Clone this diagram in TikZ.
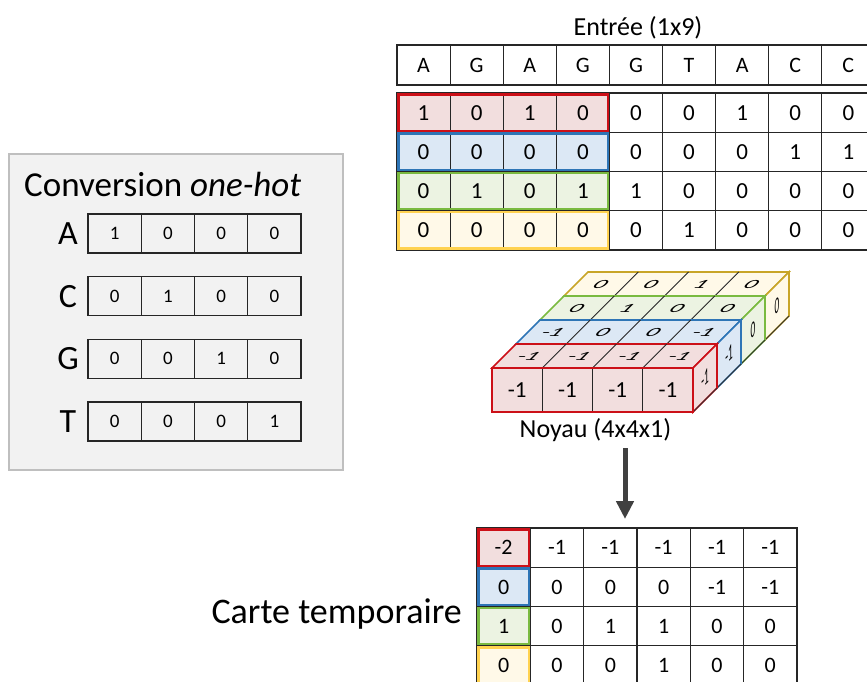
\documentclass[tikz,border=0pt]{standalone}
\usepackage{fontspec}
\setmainfont{Carlito}
\usetikzlibrary{arrows.meta}

\definecolor{redline}{RGB}{204,16,24}
\definecolor{redfill}{RGB}{242,222,222}
\definecolor{bluline}{RGB}{46,117,182}
\definecolor{blufill}{RGB}{220,232,245}
\definecolor{grnline}{RGB}{122,186,64}
\definecolor{grnfill}{RGB}{236,243,226}
\definecolor{ylwline}{RGB}{255,210,80}
\definecolor{ylwdark}{RGB}{200,165,40}
\definecolor{ylwfill}{RGB}{255,249,232}
\definecolor{boxgray}{RGB}{242,242,242}
\definecolor{boxedge}{RGB}{191,191,191}
\definecolor{arrowgray}{RGB}{64,64,64}

\newcommand{\fsz}[1]{\fontsize{#1}{#1}\selectfont}

\tikzset{
  gridline/.style={draw=black!85,line width=1.1pt},
  hdcell/.style={gridline,minimum width=53.1pt,minimum height=40pt,inner sep=0pt,font=\fsz{22}},
  incell/.style={gridline,minimum width=53.1pt,minimum height=39.25pt,inner sep=0pt,font=\fsz{23}},
  outcell/.style={gridline,minimum width=53.33pt,minimum height=39.3pt,inner sep=0pt,font=\fsz{22}},
  hotcell/.style={gridline,minimum width=53.25pt,minimum height=39pt,inner sep=0pt,font=\fsz{19}},
  kcell/.style={gridline,fill=redfill,minimum width=50.25pt,minimum height=44pt,inner sep=0pt,font=\fsz{23}},
  flow/.style={arrowgray,line width=5pt,-{Triangle[length=18pt,width=17pt]}},
}

\begin{document}
\begin{tikzpicture}[x=1pt,y=-1pt]
\useasboundingbox (0,0) rectangle (867,681);
\clip (0,0) rectangle (867,681);
\fill[white] (0,0) rectangle (867,681);

% ======================= LEFT: one-hot conversion table =======
\fill[boxgray] (9,154) rectangle (343,470);
\draw[boxedge,line width=1.2pt] (9,154) rectangle (343,470);
\node[font=\fsz{35},anchor=base west,inner sep=0pt] (conv) at (24,196) {Conversion \textit{one-hot}};
\foreach \b/\vals [count=\r] in {A/{1,0,0,0},C/{0,1,0,0},G/{0,0,1,0},T/{0,0,0,1}}{
  \pgfmathsetmacro\yc{233.5+62.67*(\r-1)}
  \node[font=\fsz{34},inner sep=0pt] (lbl-\b) at (68,\yc) {\b};
  \foreach \v [count=\c] in \vals
    \node[hotcell] (hot-\b-\c) at (88+53.25*\c-26.6,\yc) {\v};
}

% ======================= TOP: input sequence and its one-hot matrix =======
\node[font=\fsz{26},anchor=base] (entree) at (638,35) {Entrée (1x9)};
\foreach \b [count=\c] in {A,G,A,G,G,T,A,C,C}
  \node[hdcell] (hd-\c) at (397+53.1*\c-26.55,65) {\b};
\foreach \vals/\fc/\lc [count=\r] in {{1,0,1,0,0,0,1,0,0}/redfill/redline,
    {0,0,0,0,0,0,0,1,1}/blufill/bluline,{0,1,0,1,1,0,0,0,0}/grnfill/grnline,
    {0,0,0,0,0,1,0,0,0}/ylwfill/ylwline}{
  \fill[\fc] (397,93+39.25*\r-39.25) rectangle ++(212.4,39.25);
  \foreach \v [count=\c] in \vals
    \node[incell] (in-\r-\c) at (397+53.1*\c-26.55,93+39.25*\r-19.6) {\v};
  % coloured window over the first four columns
  \draw[\lc,line width=2.6pt] (398.3,93+39.25*\r-37.95) rectangle ++(209.8,36.65);
}

% ======================= MIDDLE: the 4x4x1 kernel, back slab first =======
\foreach \k/\vals/\sv/\fc/\lc in {3/{0,0,1,0}/0/ylwfill/ylwdark,2/{0,1,0,0}/0/grnfill/grnline,
    1/{-1,0,0,-1}/-1/blufill/bluline,0/{-1,-1,-1,-1}/-1/redfill/redline}{
  \pgfmathsetmacro\xo{492+24*\k}
  \pgfmathsetmacro\yo{368-24*\k}
  % top face
  \filldraw[fill=\fc,draw=\lc,line width=1.6pt] (\xo,\yo) -- ++(201,0) -- ++(24,-24) -- ++(-201,0) -- cycle;
  \foreach \j in {1,2,3}
    \draw[gridline,line width=0.9pt] (\xo+50.25*\j,\yo) -- ++(24,-24);
  \foreach \v [count=\j] in \vals{
    \begin{scope}[shift={(\xo+50.25*\j-13.1,\yo-12)},xslant=1,yscale=0.5]
      \node[font=\fsz{25},inner sep=0pt,transform shape] (k\k-top-\j) at (0,0) {\v};
    \end{scope}
  }
  % right side face
  \filldraw[fill=\fc,draw=\lc,line width=1.6pt] (\xo+201,\yo) -- ++(24,-24) -- ++(0,44) -- ++(-24,24) -- cycle;
  \draw[black!80,line width=0.9pt] (\xo+201,\yo+44) -- ++(24,-24);
  \begin{scope}[shift={(\xo+213,\yo+10)},yslant=1,xscale=0.4]
    \node[font=\fsz{23},inner sep=0pt,transform shape] (k\k-side) at (0,0) {\sv};
  \end{scope}
}
% front face of the red slab
\foreach \v [count=\j] in {-1,-1,-1,-1}
  \node[kcell] (k0-front-\j) at (492+50.25*\j-25.125,390) {\v};
\draw[redline,line width=2.6pt] (492,368) rectangle (693,412);
\node[font=\fsz{26},anchor=base] (noyau) at (595.5,437) {Noyau (4x4x1)};

% arrow down to the feature map
\coordinate (arr-top) at (625,448);
\coordinate (arr-tip) at (625,519);
\draw[flow] (arr-top) -- (arr-tip);

% ======================= BOTTOM: temporary feature map =======
\node[font=\fsz{36},anchor=base east,inner sep=0pt] (carte) at (462,623) {Carte temporaire};
\foreach \vals/\fc/\lc [count=\r] in {{-2,-1,-1,-1,-1,-1}/redfill/redline,
    {0,0,0,0,-1,-1}/blufill/bluline,{1,0,1,1,0,0}/grnfill/grnline,
    {0,0,0,1,0,0}/ylwfill/ylwline}{
  \fill[\fc] (477,528+39.3*\r-39.3) rectangle ++(53.33,39.3);
  \foreach \v [count=\c] in \vals
    \node[outcell] (out-\r-\c) at (477+53.33*\c-26.67,528+39.3*\r-19.65) {\v};
  \draw[\lc,line width=2.6pt] (478.3,528+39.3*\r-38) rectangle ++(50.73,36.7);
}

\end{tikzpicture}
\end{document}
